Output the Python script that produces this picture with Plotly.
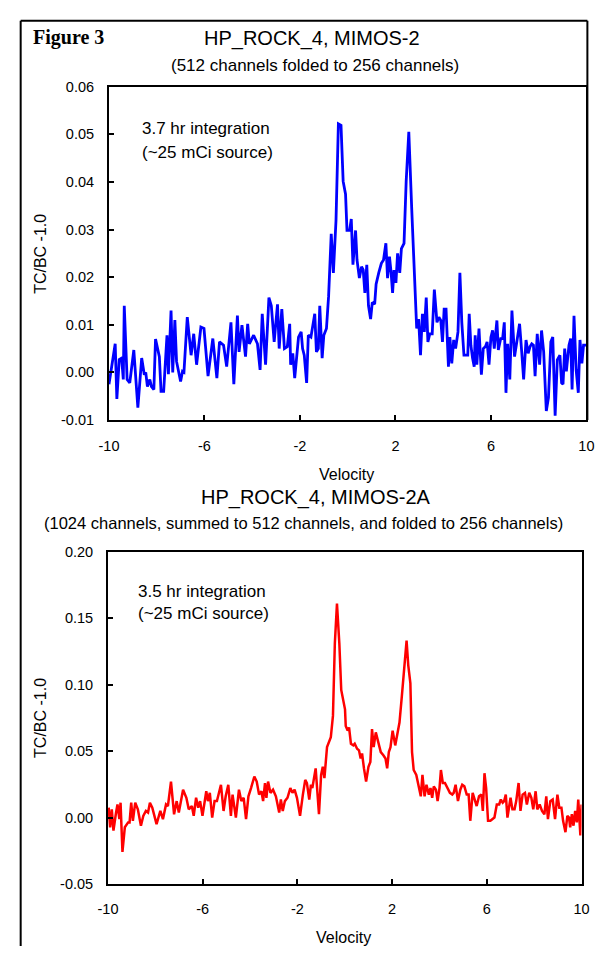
import plotly.graph_objects as go

# ---------------- data ----------------
top_velocity = [-10.0, -9.74, -9.67, -9.57, -9.47, -9.40, -9.36, -9.24, -9.13, -8.96, -8.79, -8.63, -8.52, -8.46, -8.39, -8.29, -8.22, -8.12, -8.05, -7.89, -7.82, -7.71, -7.57, -7.51, -7.40, -7.33, -7.24, -7.17, -7.00, -6.92, -6.86, -6.72, -6.56, -6.45, -6.33, -6.15, -6.02, -5.85, -5.65, -5.48, -5.37, -5.20, -5.07, -4.89, -4.77, -4.62, -4.55, -4.43, -4.28, -4.19, -4.12, -3.94, -3.78, -3.67, -3.58, -3.44, -3.30, -3.20, -3.08, -2.94, -2.87, -2.76, -2.65, -2.53, -2.43, -2.39, -2.30, -2.22, -2.06, -1.95, -1.89, -1.82, -1.72, -1.65, -1.54, -1.48, -1.38, -1.31, -1.23, -1.17, -1.07, -1.00, -0.89, -0.80, -0.69, -0.60, -0.49, -0.39, -0.28, -0.19, -0.09, -0.03, 0.08, 0.15, 0.22, 0.33, 0.39, 0.49, 0.58, 0.65, 0.72, 0.80, 0.87, 0.96, 1.03, 1.13, 1.19, 1.30, 1.41, 1.50, 1.60, 1.67, 1.75, 1.82, 1.88, 1.94, 2.02, 2.09, 2.18, 2.25, 2.36, 2.45, 2.56, 2.68, 2.79, 2.89, 2.97, 3.05, 3.13, 3.21, 3.29, 3.36, 3.44, 3.54, 3.63, 3.74, 3.82, 3.90, 3.97, 4.04, 4.12, 4.22, 4.28, 4.36, 4.44, 4.52, 4.62, 4.70, 4.78, 4.87, 4.96, 5.03, 5.09, 5.16, 5.23, 5.30, 5.34, 5.41, 5.50, 5.60, 5.68, 5.77, 5.84, 5.92, 6.00, 6.07, 6.14, 6.25, 6.31, 6.41, 6.49, 6.56, 6.63, 6.70, 6.79, 6.88, 6.99, 7.09, 7.20, 7.29, 7.37, 7.47, 7.56, 7.64, 7.71, 7.78, 7.85, 7.94, 8.04, 8.12, 8.21, 8.32, 8.41, 8.51, 8.59, 8.69, 8.78, 8.89, 8.96, 9.02, 9.09, 9.16, 9.27, 9.34, 9.40, 9.48, 9.57, 9.66, 9.73, 9.81, 9.88, 10.0]
top_values = [-0.0025, 0.006, -0.0056, 0.0027, 0.003, -0.0015, 0.014, -0.0015, -0.0022, 0.0047, -0.0074, 0.003, -0.0005, 0.0, -0.003, -0.0015, -0.003, -0.0036, 0.007, 0.0033, -0.004, -0.004, 0.0078, -0.0004, 0.013, 0.0, 0.011, 0.0023, -0.0019, 0.0002, 0.0, 0.0116, 0.0036, 0.0081, 0.0016, 0.0095, 0.0092, -0.0008, 0.0071, -0.0012, 0.0064, 0.0057, 0.0012, 0.0105, -0.0025, 0.0119, 0.0043, 0.0099, 0.0033, 0.0102, 0.006, 0.0078, 0.006, 0.0005, 0.0123, 0.0016, 0.0157, 0.014, 0.0064, 0.0143, 0.005, 0.0133, 0.005, 0.0054, 0.0102, 0.0016, 0.004, -0.0012, 0.0074, 0.0085, 0.005, 0.0036, -0.0022, 0.0078, 0.0074, 0.0092, 0.0123, 0.0043, 0.005, 0.014, 0.003, 0.0078, 0.0092, 0.016, 0.0291, 0.0209, 0.0319, 0.0522, 0.0519, 0.0401, 0.0374, 0.0298, 0.0298, 0.0322, 0.0226, 0.0298, 0.0236, 0.0198, 0.0222, 0.0215, 0.0167, 0.0226, 0.014, 0.0112, 0.0147, 0.0143, 0.0185, 0.0209, 0.0229, 0.0236, 0.0271, 0.0198, 0.0243, 0.0209, 0.0167, 0.0215, 0.0188, 0.025, 0.0209, 0.026, 0.0271, 0.0401, 0.0505, 0.0346, 0.0195, 0.0092, 0.0112, 0.0036, 0.0123, 0.0085, 0.0157, 0.0064, 0.0081, 0.0081, 0.0174, 0.0105, 0.0116, 0.0109, 0.0064, 0.0133, 0.0133, 0.0012, 0.0074, 0.0019, 0.0068, 0.005, 0.0085, 0.0209, 0.0105, 0.0036, 0.0036, 0.0036, 0.0123, 0.0057, 0.003, 0.0012, 0.0078, 0.0016, 0.0092, -0.0005, 0.005, 0.0054, 0.0064, 0.0016, 0.0074, 0.0088, 0.005, 0.0109, 0.0047, 0.0071, 0.0071, 0.0105, -0.0043, 0.006, -0.0015, 0.013, 0.0033, 0.0064, 0.0102, 0.0043, -0.0015, 0.0068, 0.004, 0.0054, 0.006, 0.0057, -0.0008, 0.0081, 0.0016, 0.0088, 0.0043, -0.0081, -0.0053, 0.0064, 0.0074, -0.0091, 0.0026, 0.0036, -0.0022, -0.0025, 0.005, 0.0002, 0.0057, 0.0071, -0.0036, 0.0119, 0.0005, -0.0043, 0.0068, 0.0019, 0.0057, 0.0057]

bottom_velocity = [-9.97, -9.91, -9.84, -9.77, -9.66, -9.60, -9.52, -9.47, -9.39, -9.29, -9.15, -9.09, -9.02, -8.95, -8.85, -8.74, -8.61, -8.51, -8.40, -8.31, -8.23, -8.13, -7.95, -7.79, -7.68, -7.55, -7.47, -7.34, -7.21, -7.10, -7.01, -6.83, -6.69, -6.59, -6.46, -6.38, -6.28, -6.19, -6.11, -6.01, -5.85, -5.78, -5.70, -5.60, -5.50, -5.40, -5.23, -5.12, -5.03, -4.92, -4.81, -4.74, -4.60, -4.47, -4.37, -4.27, -4.17, -4.07, -3.96, -3.82, -3.72, -3.62, -3.52, -3.45, -3.37, -3.31, -3.24, -3.14, -3.03, -2.91, -2.77, -2.70, -2.62, -2.53, -2.42, -2.30, -2.21, -2.12, -2.02, -1.89, -1.77, -1.67, -1.60, -1.50, -1.43, -1.37, -1.30, -1.23, -1.09, -1.00, -0.93, -0.86, -0.75, -0.64, -0.59, -0.50, -0.42, -0.33, -0.23, -0.15, -0.05, 0.01, 0.04, 0.12, 0.18, 0.26, 0.36, 0.42, 0.52, 0.60, 0.67, 0.73, 0.81, 0.90, 1.00, 1.08, 1.15, 1.22, 1.31, 1.41, 1.52, 1.63, 1.72, 1.79, 1.86, 1.93, 2.02, 2.13, 2.23, 2.31, 2.41, 2.50, 2.61, 2.68, 2.77, 2.84, 2.91, 3.02, 3.09, 3.21, 3.28, 3.37, 3.45, 3.55, 3.62, 3.69, 3.76, 3.85, 3.92, 4.00, 4.06, 4.14, 4.23, 4.34, 4.44, 4.54, 4.60, 4.68, 4.78, 4.88, 4.96, 5.05, 5.15, 5.23, 5.30, 5.40, 5.49, 5.57, 5.67, 5.77, 5.83, 5.90, 5.97, 6.05, 6.15, 6.24, 6.32, 6.42, 6.52, 6.59, 6.67, 6.73, 6.80, 6.87, 7.00, 7.08, 7.17, 7.24, 7.34, 7.42, 7.51, 7.61, 7.69, 7.79, 7.88, 7.96, 8.06, 8.13, 8.23, 8.33, 8.43, 8.51, 8.58, 8.68, 8.78, 8.88, 8.98, 9.06, 9.15, 9.22, 9.32, 9.40, 9.47, 9.52, 9.59, 9.66, 9.73, 9.80, 9.86, 9.95, 10.0]
bottom_values = [0.0075, -0.0073, 0.0062, -0.0098, 0.0038, 0.0099, -0.0012, 0.0112, -0.0258, -0.0073, -0.0036, -0.0036, 0.0112, -0.0024, 0.0112, 0.0062, -0.0061, 0.0013, 0.005, 0.0038, 0.0112, 0.0075, -0.0049, 0.005, -0.0012, 0.0099, 0.0087, 0.0271, 0.0025, 0.0124, 0.0038, 0.021, 0.0149, 0.0062, 0.0087, 0.0013, 0.0149, 0.0075, 0.0124, 0.0013, 0.0198, 0.0124, 0.0186, 0.0, 0.0124, 0.0124, 0.0247, 0.005, 0.016, 0.0247, 0.0013, 0.0173, 0.0, 0.021, 0.0124, 0.0149, -0.0012, 0.016, 0.0222, 0.0309, 0.0271, 0.0173, 0.0198, 0.0124, 0.026, 0.0149, 0.0271, 0.0186, 0.021, 0.016, 0.0038, 0.0136, 0.005, 0.0124, 0.0149, 0.0222, 0.0186, 0.021, 0.0149, 0.0013, 0.0173, 0.0284, 0.026, 0.0136, 0.0247, 0.0222, 0.0297, 0.037, 0.0025, 0.0321, 0.0382, 0.0297, 0.053, 0.0592, 0.0604, 0.0765, 0.131, 0.161, 0.131, 0.096, 0.0863, 0.0814, 0.069, 0.0654, 0.0678, 0.0555, 0.0543, 0.0555, 0.0518, 0.0506, 0.0445, 0.0482, 0.037, 0.0271, 0.0382, 0.0419, 0.0666, 0.053, 0.0641, 0.058, 0.0493, 0.0469, 0.0445, 0.037, 0.0493, 0.053, 0.0654, 0.0543, 0.0641, 0.0715, 0.0913, 0.1135, 0.1332, 0.1147, 0.1011, 0.0493, 0.0358, 0.0321, 0.026, 0.016, 0.0321, 0.016, 0.0247, 0.0173, 0.0222, 0.0149, 0.0235, 0.021, 0.0124, 0.0222, 0.0358, 0.026, 0.026, 0.0222, 0.0186, 0.0173, 0.0186, 0.0247, 0.0124, 0.021, 0.0247, 0.0235, 0.0173, 0.0173, -0.0024, 0.0186, 0.0136, 0.0087, 0.016, 0.0173, 0.005, 0.0334, 0.0222, -0.0024, -0.0024, -0.0012, 0.0, 0.0099, 0.0099, 0.0136, 0.0112, 0.0124, 0.0173, 0.0, 0.0149, 0.0062, 0.0062, 0.0124, 0.026, 0.005, 0.0173, 0.0186, 0.0099, 0.0186, 0.0149, 0.0062, 0.0198, 0.0062, 0.0099, 0.005, 0.0025, 0.016, -0.0012, 0.0124, 0.0136, -0.0012, 0.0173, 0.0075, 0.0075, -0.0024, -0.011, 0.0013, 0.0, -0.0073, 0.0025, -0.0061, 0.005, -0.0036, 0.0136, -0.0135, 0.0099]

x_tick_values = [-10, -6, -2, 2, 6, 10]
x_tick_labels = ["-10", "-6", "-2", "2", "6", "10"]
top_y_tick_values = [-0.01, 0.0, 0.01, 0.02, 0.03, 0.04, 0.05, 0.06]
top_y_tick_labels = ["-0.01", "0.00", "0.01", "0.02", "0.03", "0.04", "0.05", "0.06"]
bottom_y_tick_values = [-0.05, 0.0, 0.05, 0.10, 0.15, 0.20]
bottom_y_tick_labels = ["-0.05", "0.00", "0.05", "0.10", "0.15", "0.20"]

top_title = "HP_ROCK_4, MIMOS-2"
top_subtitle = "(512 channels folded to 256 channels)"
bottom_title = "HP_ROCK_4, MIMOS-2A"
bottom_subtitle = "(1024 channels, summed to 512 channels, and folded to 256 channels)"
top_note = ["3.7 hr integration", "(~25 mCi source)"]
bottom_note = ["3.5 hr integration", "(~25 mCi source)"]

# ---------------- layout helpers ----------------
W, H = 608, 954
FONT = "Liberation Sans, Arial, sans-serif"
TICK = 14.5


def px(x):
    return x / W


def py(y):
    return 1 - y / H


fig = go.Figure()
fig.add_trace(go.Scatter(x=top_velocity, y=top_values, mode="lines",
                         line=dict(color="#0000FF", width=2.8),
                         xaxis="x", yaxis="y", showlegend=False))
fig.add_trace(go.Scatter(x=bottom_velocity, y=bottom_values, mode="lines",
                         line=dict(color="#FF0000", width=2.5),
                         xaxis="x2", yaxis="y2", showlegend=False))

axis_common = dict(showline=True, linecolor="black", linewidth=2, mirror=True,
                   ticks="inside", ticklen=5, tickwidth=2, tickcolor="black",
                   showgrid=False, zeroline=False,
                   tickfont=dict(family=FONT, size=TICK, color="black"))

fig.update_layout(
    width=W, height=H, autosize=False,
    margin=dict(l=0, r=0, t=0, b=0),
    paper_bgcolor="white", plot_bgcolor="white",
    xaxis=dict(domain=[px(102), px(594)], range=[-10, 10], anchor="y",
               tickmode="array", tickvals=x_tick_values, ticktext=x_tick_labels,
               ticklabelstandoff=12, **axis_common),
    yaxis=dict(domain=[py(419), py(80)], range=[-0.01, 0.06], anchor="x",
               tickmode="array", tickvals=top_y_tick_values, ticktext=top_y_tick_labels,
               ticklabelstandoff=10, **axis_common),
    xaxis2=dict(domain=[px(101), px(589)], range=[-10, 10], anchor="y2",
                tickmode="array", tickvals=x_tick_values, ticktext=x_tick_labels,
                ticklabelstandoff=11, **axis_common),
    yaxis2=dict(domain=[py(891), py(553)], range=[-0.05, 0.20], anchor="x2",
                tickmode="array", tickvals=bottom_y_tick_values, ticktext=bottom_y_tick_labels,
                ticklabelstandoff=10, **axis_common),
)

ann = []


def text(t, x, y, size, xanchor="center", family=FONT, angle=0):
    ann.append(dict(text=t, x=px(x), y=py(y), xref="paper", yref="paper",
                    xanchor=xanchor, yanchor="middle", showarrow=False,
                    textangle=angle, font=dict(family=family, size=size, color="black")))


text("<b>Figure 3</b>", 22, 30, 20, xanchor="left", family="Liberation Serif, Times New Roman, serif")
text(top_title, 311, 31, 20)
text(top_subtitle, 314, 58, 17)
text("Velocity", 347, 474, 16)
text(bottom_title, 315, 498, 20)
text(bottom_subtitle, 302, 524, 16.5)
text("Velocity", 344, 945, 16)
text("TC/BC -1.0", 32, 250, 16, angle=-90)
text("TC/BC -1.0", 32, 722, 16, angle=-90)
text(top_note[0], 134, 123, 17, xanchor="left")
text(top_note[1], 134, 147, 17, xanchor="left")
text(bottom_note[0], 130, 593, 17, xanchor="left")
text(bottom_note[1], 130, 616, 17, xanchor="left")
fig.update_layout(annotations=ann)

# frame round the figure: top edge, left edge running off the bottom,
# right edge meeting the top panel's right axis
frame = dict(type="line", xref="paper", yref="paper",
             line=dict(color="black", width=2), layer="above")
fig.add_shape(x0=px(11), x1=px(595), y0=py(13), y1=py(13), **frame)
fig.add_shape(x0=px(11), x1=px(11), y0=py(13), y1=0, **frame)
fig.add_shape(x0=px(595), x1=px(595), y0=py(13), y1=py(419), **frame)

fig.write_html("out.html", config={"displayModeBar": False},
               post_script="document.body.style.margin='0';document.body.style.padding='0';"
                           "document.body.style.overflow='hidden';"
                           "document.documentElement.style.overflow='hidden';")
